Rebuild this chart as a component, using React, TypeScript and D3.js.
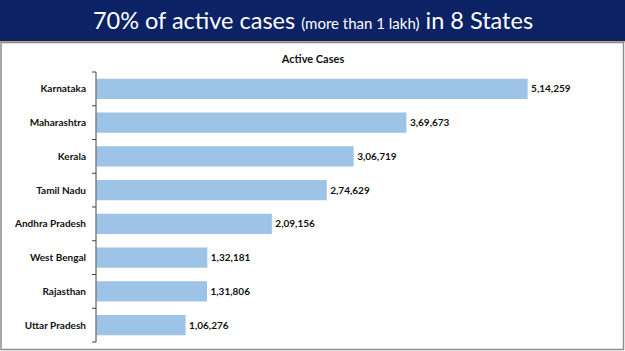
import React, { useEffect, useRef } from 'react'
import * as d3 from 'd3'

const states = ['Karnataka', 'Maharashtra', 'Kerala', 'Tamil Nadu', 'Andhra Pradesh', 'West Bengal', 'Rajasthan', 'Uttar Pradesh']
const activeCases = [514259, 369673, 306719, 274629, 209156, 132181, 131806, 106276]
const valueLabels = ['5,14,259', '3,69,673', '3,06,719', '2,74,629', '2,09,156', '1,32,181', '1,31,806', '1,06,276']

const W = 625
const H = 351

export default function App() {
  const ref = useRef<SVGSVGElement>(null)

  useEffect(() => {
    document.body.style.margin = '0'
    const svg = d3.select(ref.current)
    svg.selectAll('*').remove()

    const font = 'Lato, "Open Sans", sans-serif'

    // header band
    svg.append('rect').attr('x', 0).attr('y', 0).attr('width', W).attr('height', 41).attr('fill', '#0b2265')
    svg.append('rect').attr('x', 0).attr('y', 41).attr('width', W).attr('height', 1.5).attr('fill', '#d9a66b')

    const header = svg.append('text')
      .attr('x', 313).attr('y', 29)
      .attr('text-anchor', 'middle')
      .attr('fill', '#ffffff')
      .style('font-family', font)
    header.append('tspan').attr('font-size', 23.5).text('70% of active cases ')
    header.append('tspan').attr('font-size', 15).text('(more than 1 lakh)')
    header.append('tspan').attr('font-size', 23.5).text(' in 8 States')

    // frame
    svg.append('rect').attr('x', 1).attr('y', 42.5).attr('width', W - 2.5).attr('height', H - 44)
      .attr('fill', 'none').attr('stroke', '#8c8c8c').attr('stroke-width', 1.5)

    svg.append('text')
      .attr('x', 313).attr('y', 63)
      .attr('text-anchor', 'middle')
      .attr('font-size', 11)
      .attr('font-weight', 'bold')
      .attr('fill', '#111')
      .style('font-family', font)
      .text('Active Cases')

    const left = 96
    const x = d3.scaleLinear().domain([0, 600000]).range([left, left + 503])
    const y = d3.scaleBand().domain(states).range([72, 342]).paddingInner(0.4).paddingOuter(0.2)

    const g = svg.append('g')

    g.selectAll('rect.bar').data(activeCases).join('rect')
      .attr('class', 'bar')
      .attr('x', x(0) + 0.5)
      .attr('y', (d, i) => y(states[i]))
      .attr('width', d => x(d) - x(0))
      .attr('height', y.bandwidth())
      .attr('fill', '#9dc3e6')

    g.selectAll('text.val').data(activeCases).join('text')
      .attr('class', 'val')
      .attr('x', d => x(d) + 4)
      .attr('y', (d, i) => y(states[i]) + y.bandwidth() / 2)
      .attr('dy', '0.35em')
      .attr('font-size', 10)
      .attr('font-weight', 'bold')
      .attr('fill', '#111')
      .style('font-family', font)
      .text((d, i) => valueLabels[i])

    // y axis with ticks between categories
    const axis = svg.append('g')
    axis.append('line').attr('x1', left).attr('x2', left).attr('y1', 72).attr('y2', 342)
      .attr('stroke', '#404040').attr('stroke-width', 1)
    const step = y.step()
    d3.range(states.length + 1).forEach(i => {
      const ty = 72 + i * step
      axis.append('line').attr('x1', left - 4).attr('x2', left).attr('y1', ty).attr('y2', ty)
        .attr('stroke', '#404040').attr('stroke-width', 1)
    })
    axis.selectAll('text').data(states).join('text')
      .attr('x', 86)
      .attr('y', d => y(d) + y.bandwidth() / 2)
      .attr('dy', '0.35em')
      .attr('text-anchor', 'end')
      .attr('font-size', 10)
      .attr('font-weight', 'bold')
      .attr('fill', '#111')
      .style('font-family', font)
      .text(d => d)
  }, [])

  return <svg ref={ref} width={W} height={H} style={{ display: 'block', background: '#fff' }} />
}
